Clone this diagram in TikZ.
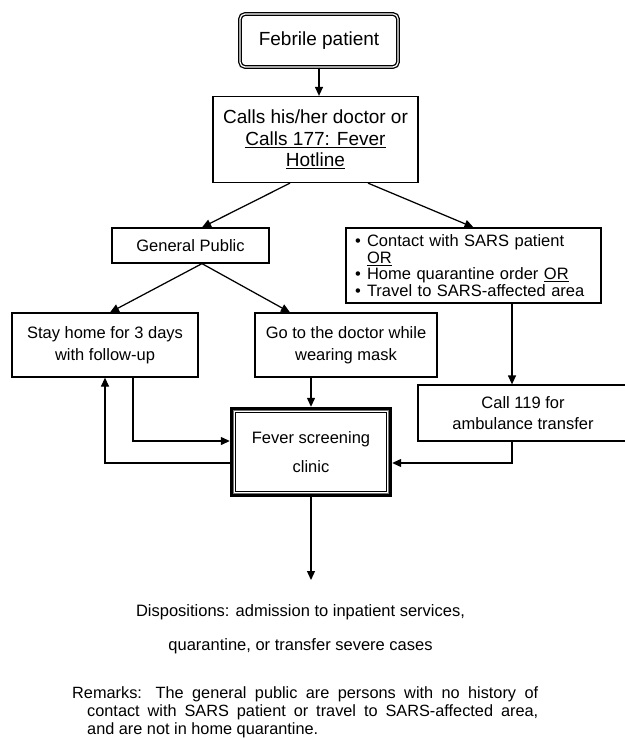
\documentclass[tikz,border=0pt]{standalone}
\usepackage{fontspec}
\setmainfont{Liberation Sans}
\usetikzlibrary{arrows.meta,calc}
\begin{document}
\begin{tikzpicture}[x=1pt,y=-1pt,
  box/.style={draw, line width=1.25pt, inner sep=0pt, align=center,
    font=\fontsize{16.5}{22}\selectfont},
  arr/.style={line width=1.25pt, -{Triangle[length=9pt,width=8pt]}},
  ln/.style={line width=1.25pt}]
\useasboundingbox (0,0) rectangle (624,738);

% nodes
\node[box, rounded corners=5pt, double=white, double distance=1.2pt, line width=1.3pt,
      minimum width=158pt, minimum height=53pt,
      font=\fontsize{19}{21.5}\selectfont] (feb) at (319,40.5) {Febrile patient};
\node[box, minimum width=205pt, minimum height=86pt,
      font=\fontsize{19}{21.5}\selectfont] (calls) at (315.5,139.5)
      {Calls his/her doctor or\\\underline{Calls 177: Fever}\\\underline{Hotline}};
\node[box, minimum width=157pt, minimum height=35pt] (gp) at (190.5,245.5) {General Public};
\node[box, minimum width=255pt, minimum height=75pt, align=left, inner xsep=9pt,
      text width=237pt, font=\fontsize{16.5}{16.5}\selectfont] (sars) at (473.5,265.5)
      {\makebox[12pt][l]{\textbullet}Contact with SARS patient\\
       \hspace*{12pt}\underline{OR}\\
       \makebox[12pt][l]{\textbullet}Home quarantine order \underline{OR}\\
       \makebox[12pt][l]{\textbullet}Travel to SARS-affected area};
\node[box, minimum width=186pt, minimum height=64pt] (stay) at (105,345)
      {Stay home for 3 days\\with follow-up};
\node[box, minimum width=182pt, minimum height=64pt] (doc) at (346,345)
      {Go to the doctor while\\wearing mask};
\node[box, minimum width=210pt, minimum height=56pt,
      font=\fontsize{16.5}{21}\selectfont] (call) at (523,413)
      {Call 119 for\\ambulance transfer};
\node[inner sep=0pt, align=center, minimum width=162pt, minimum height=90pt,
      font=\fontsize{16.5}{29}\selectfont] (clinic) at (311,452)
      {Fever screening\\clinic};
\draw[line width=2.8pt] ([xshift=1.4pt,yshift=-1.4pt]clinic.north west)
      rectangle ([xshift=-1.4pt,yshift=1.4pt]clinic.south east);
\draw[line width=0.8pt, black!55] ([xshift=3.5pt,yshift=-3.5pt]clinic.north west)
      rectangle ([xshift=-3.5pt,yshift=3.5pt]clinic.south east);
\draw[line width=1.3pt] ([xshift=5.4pt,yshift=-5.4pt]clinic.north west)
      rectangle ([xshift=-5.4pt,yshift=5.4pt]clinic.south east);

\coordinate (end) at (311,580);
\node[inner sep=0pt, align=center, font=\fontsize{16.5}{34}\selectfont] (disp) at (300.5,629)
      {Dispositions: admission to inpatient services,\\quarantine, or transfer severe cases};
\node[anchor=north west, inner sep=0pt, text width=466pt, align=justify,
      font=\fontsize{16.3}{18}\selectfont] (rem) at (72,686)
      {\hangindent=15pt\hangafter=1 Remarks: The general public are persons with no history of\linebreak
       contact with SARS patient or travel to SARS-affected area,\linebreak
       and are not in home quarantine.\par};

% connectors
\draw[arr] (feb.south) -- (feb.south |- calls.north);
\draw[arr] ([xshift=-25.5pt]calls.south) -- ([xshift=11.5pt]gp.north);
\draw[arr] ([xshift=52.5pt]calls.south) -- (sars.north);
\draw[arr] ([xshift=11.5pt]gp.south) -- ([xshift=5pt]stay.north);
\draw[arr] ([xshift=11.5pt]gp.south) -- ([xshift=-56pt]doc.north);
\draw[arr] ([xshift=38.5pt]sars.south) -- ([xshift=38.5pt]sars.south |- call.north);
\draw[arr] (doc.south -| clinic.north) -- (clinic.north);
\draw[arr] ([xshift=28pt]stay.south) |- ([yshift=11pt]clinic.west);
\draw[arr] ([yshift=-11pt]clinic.west) -| (stay.south);
\draw[arr] ([xshift=-11pt]call.south) |- ([yshift=-11pt]clinic.east);
\draw[arr] (clinic.south) -- (end);
\end{tikzpicture}
\end{document}
